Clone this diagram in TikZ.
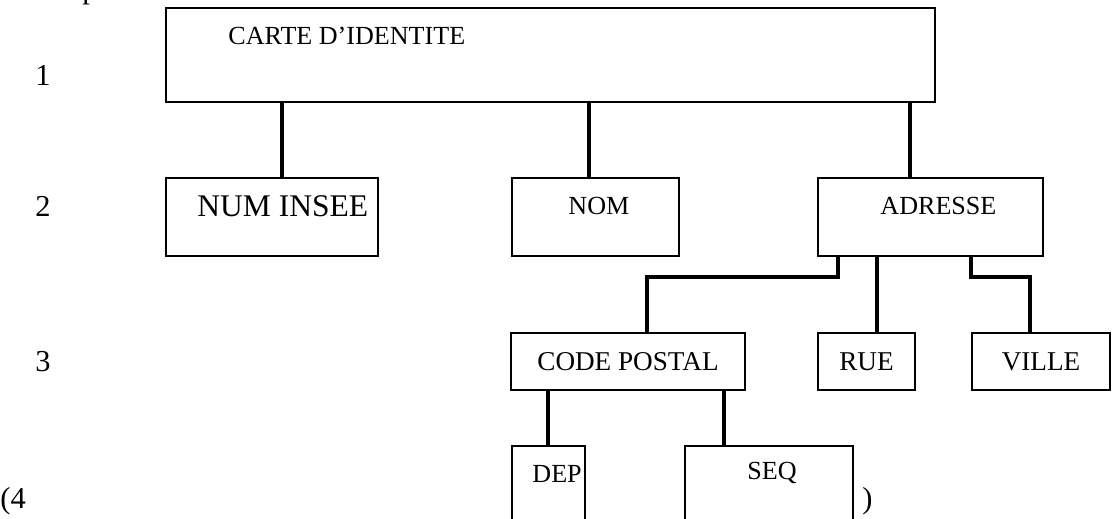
\documentclass[tikz,border=0pt]{standalone}
\usepackage{fontspec}
\setmainfont{Liberation Serif}
\usetikzlibrary{fit}
\begin{document}
\begin{tikzpicture}[x=0.46pt, y=-0.46pt,
  box/.style={draw, line width=0.6pt, inner sep=0pt},
  topbox/.style={draw, line width=1.1pt, inner sep=0pt},
  conn/.style={line width=1.7pt},
  txt/.style={anchor=base west, inner sep=0pt, font=\fontsize{12}{14}\selectfont},
  midtxt/.style={anchor=base, inner sep=0pt, font=\fontsize{12.5}{14}\selectfont},
  bigtxt/.style={anchor=base west, inner sep=0pt, font=\fontsize{14}{16}\selectfont},
  numtxt/.style={anchor=base west, inner sep=0pt, font=\fontsize{14.5}{16}\selectfont}]
\useasboundingbox (0,0) rectangle (1114,519);
% boxes
\node[topbox, fit={(166,8) (935,102)}] (carte) {};
\node[box, fit={(166,178) (378,256)}] (num) {};
\node[box, fit={(512,178) (679,256)}] (nom) {};
\node[box, fit={(818,178) (1043,256)}] (adr) {};
\node[box, fit={(511,333) (745,390)}] (cp) {};
\node[box, fit={(818,333) (915,390)}] (rue) {};
\node[box, fit={(972,333) (1110,390)}] (ville) {};
\node[box, fit={(512,446) (585,530)}] (dep) {};
\node[box, fit={(685,446) (853,530)}] (seq) {};
% texts
\node[txt] (tcarte) at (228,45) {CARTE D’IDENTITE};
\node[numtxt] (tnum) at (197,216) {NUM INSEE};
\node[txt] (tnom) at (568,215) {NOM};
\node[txt] (tadr) at (880,215) {ADRESSE};
\coordinate (row3) at (0,370);
\node[midtxt] (tcp) at (row3 -| cp) {CODE POSTAL};
\node[midtxt] (true) at (row3 -| rue) {RUE};
\node[midtxt] (tville) at (row3 -| ville) {VILLE};
\node[txt] (tdep) at (532,482) {DEP};
\node[txt] (tseq) at (747,479) {SEQ};
% level labels
\node[bigtxt] (p) at (82,-1) {p};
\node[bigtxt] (l1) at (35,86) {1};
\node[bigtxt] (l2) at (35,216) {2};
\node[bigtxt] (l3) at (35,371) {3};
\node[bigtxt] (l4) at (0,508) {(4};
\node[bigtxt] (close) at (862,508) {)};
% connector positions
\coordinate (k1) at (282,0);
\coordinate (k2) at (589,0);
\coordinate (k3) at (910,0);
\coordinate (a1) at (838,0);
\coordinate (a2) at (877,0);
\coordinate (a3) at (971,0);
\coordinate (c1) at (647,0);
\coordinate (v1) at (1030,0);
\coordinate (hy) at (0,277);
\coordinate (d1) at (548,0);
\coordinate (s1) at (724,0);
% connectors
\draw[conn] (carte.south -| k1) -- (num.north -| k1);
\draw[conn] (carte.south -| k2) -- (nom.north -| k2);
\draw[conn] (carte.south -| k3) -- (adr.north -| k3);
\draw[conn] (adr.south -| a1) -- (a1 |- hy) -- (c1 |- hy) -- (cp.north -| c1);
\draw[conn] (adr.south -| a2) -- (rue.north -| a2);
\draw[conn] (adr.south -| a3) -- (a3 |- hy) -- (v1 |- hy) -- (ville.north -| v1);
\draw[conn] (cp.south -| d1) -- (dep.north -| d1);
\draw[conn] (cp.south -| s1) -- (seq.north -| s1);
\end{tikzpicture}
\end{document}
